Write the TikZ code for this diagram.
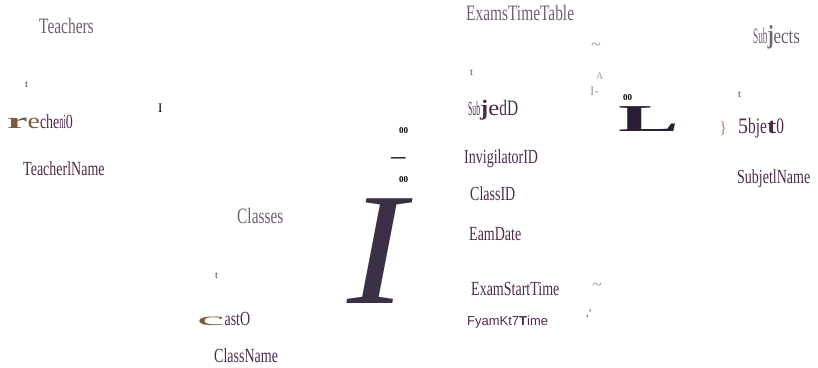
\documentclass[tikz,border=0pt]{standalone}
\usepackage{fontspec}
\setmainfont{Liberation Serif}
\setsansfont{Liberation Sans}
\newfontfamily\tablefont[FakeStretch=0.7]{Liberation Serif}
\newfontfamily\fieldfont[FakeStretch=0.7]{Liberation Serif}
\usetikzlibrary{positioning}
\definecolor{headcol}{HTML}{6E6070}
\definecolor{fieldcol}{HTML}{4E2A4A}
\definecolor{keycol}{HTML}{7A5C3E}
\definecolor{markcol}{HTML}{3B3045}
\definecolor{linkcol}{HTML}{2A1F35}
\definecolor{tildecol}{HTML}{9A9A9A}
\definecolor{bracecol}{HTML}{B0905A}
\tikzset{
	tablename/.style={font=\tablefont\fontsize{22}{22}\selectfont, text=headcol},
	field/.style={font=\fieldfont\fontsize{20}{20}\selectfont, text=fieldcol},
	tickmark/.style={font=\fontsize{10}{10}\selectfont, text=fieldcol},
	card/.style={font=\bfseries\fontsize{9}{9}\selectfont, text=black},
	faint/.style={font=\fontsize{18}{18}\selectfont, text=tildecol}
}

\begin{document}
\begin{tikzpicture}[x=1pt, y=-1pt, every node/.style={inner sep=0pt, anchor=base west}]
\useasboundingbox (0,0) rectangle (818,367);

% Teachers
\node[tablename] (teachers) at (39,33) {Teachers};
\node[tickmark] (teacherTick) at (25,87) {t};
\node[field] (teacherId) at (7,128) {{\color{keycol}\fontsize{22}{22}\selectfont\scalebox{3}[1]{\bfseries r}\scalebox{1.8}[1]{e}}che\scalebox{0.6}[1]{ni}0};
\node[font=\fontsize{13}{13}\selectfont] (teacherMark) at (158,112) {I};
\node[field] (teacherName) at (23,175) {TeacherlName};

% Classes
\node[tablename] (classes) at (237,223) {Classes};
\node[tickmark] (classTick) at (215,278) {t};
\node[field] (classId) at (197,325) {{\color{keycol}\scalebox{4.4}[0.9]{c}}astO};
\node[field] (className) at (214,362) {ClassName};

% cardinalities between Classes and ExamsTimeTable
\node[card] (classOne) at (399,133) {00};
\node[font=\bfseries\fontsize{18}{18}\selectfont] (classBar) at (391,162) {\scalebox{1.6}[1]{--}};
\node[card] (classTwo) at (399,182) {00};
\node[text=markcol, font=\itshape\fontsize{160}{160}\selectfont] (classLink) at (347,303) {\smash{\scalebox{1.1}[1]{I}}};

% ExamsTimeTable
\node[tablename] (exams) at (466,20) {ExamsTimeTable};
\node[tickmark] (examTick) at (470,75) {t};
\node[field] (subjectId) at (468,115) {\scalebox{0.55}[1]{Sub}{\fontsize{22}{22}\selectfont\scalebox{1.6}[1]{\bfseries j}\scalebox{1.6}[1]{e}dD}};
\node[field] (invigilatorId) at (464,163) {InvigilatorID};
\node[field] (examClassId) at (470,200) {ClassID};
\node[field] (examDate) at (469,240) {EamDate};
\node[field] (examStart) at (471,295) {ExamStartTime};
\node[font=\sffamily\fontsize{13}{13}\selectfont, text=fieldcol] (examEnd) at (467,325) {FyamKt7{\bfseries T}ime};
\node[faint] (topTilde) at (591,50) {\textasciitilde};
\node[font=\fontsize{10}{10}\selectfont, text=tildecol] (topA) at (596,79) {A};
\node[font=\fontsize{13}{13}\selectfont, text=tildecol] (topI) at (590,95) {I-};
\node[faint] (lowTilde) at (592,290) {\textasciitilde};
\node[font=\fontsize{10}{10}\selectfont, text=fieldcol] (lowMark) at (586,316) {,'};

% cardinality between ExamsTimeTable and Subjects
\node[card] (subjectOne) at (623,100) {00};
\node[text=linkcol, font=\bfseries\fontsize{38}{38}\selectfont] (subjectLink) at (618,131) {\smash{\scalebox{2.4}[1]{L}}};

% Subjects
\node[tablename] (subjects) at (753,43) {\scalebox{0.6}[1]{Sub}{\bfseries\fontsize{26}{26}\selectfont j}\scalebox{1.1}[1]{ects}};
\node[tickmark] (subjectTick) at (738,97) {t};
\node[text=bracecol, font=\fontsize{17}{17}\selectfont] (subjectBrace) at (719,133) {\}};
\node[field] (subjectKey) at (738,133) {{\fontsize{22}{22}\selectfont\scalebox{1.3}[1]{5}bje\scalebox{1.8}[1]{\bfseries t}0}};
\node[field] (subjectName) at (737,183) {SubjetlName};
\end{tikzpicture}
\end{document}
